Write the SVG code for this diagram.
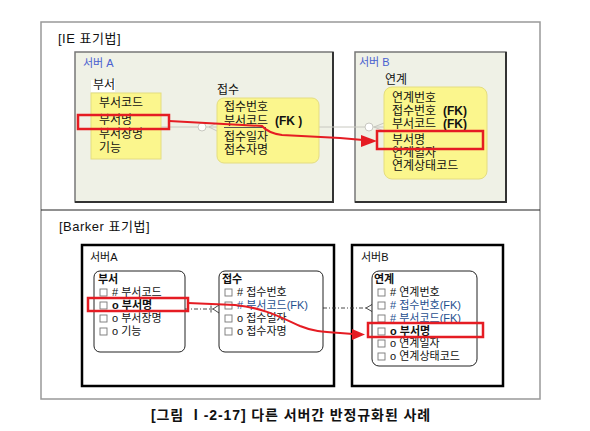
<svg xmlns="http://www.w3.org/2000/svg" width="590" height="431" viewBox="0 0 590 431">
<style>
text{font-family:"Liberation Sans","Noto Sans CJK KR",sans-serif;fill:#111}
.t12{font-size:12px}
.t11{font-size:11px}
.hd{font-size:13px;letter-spacing:0.5px}
.blue{fill:#4a5fd0}
.fk{fill:#1f4f8f}
.b{font-weight:bold}
.srvIE{fill:#eff1e6;stroke:#777;stroke-width:1.5}
.ent{fill:#fbf68d;stroke:#e4dd80;stroke-width:1}
.srvB{fill:#fff;stroke:#000;stroke-width:2.5}
.entB{fill:#fff;stroke:#222;stroke-width:1}
.red{fill:none;stroke:#e51c23;stroke-width:2.5}
.redl{fill:none;stroke:#e51c23;stroke-width:2}
.gray{fill:none;stroke:#c8c8c0;stroke-width:1}
.dash{fill:none;stroke:#333;stroke-width:0.9;stroke-dasharray:4 2 1 2}
.cb{fill:#fff;stroke:#777;stroke-width:0.9}
</style>
<rect width="590" height="431" fill="#fff"/>
<g id="frame">
<rect x="41" y="22" width="499" height="377" fill="none" stroke="#999" stroke-width="1.5"/>
<line x1="41" y1="210" x2="540" y2="210" stroke="#222" stroke-width="1"/>
<text x="58" y="43" class="hd">[IE 표기법]</text>
<text x="59" y="231" class="hd">[Barker 표기법]</text>
<text x="291" y="420" font-size="14" class="b" letter-spacing="0.9" text-anchor="middle">[그림 Ⅰ-2-17] 다른 서버간 반정규화된 사례</text>
</g>
<g id="ie-server-a">
<rect x="75" y="52" width="258" height="150" class="srvIE"/>
<polyline points="75,202 333,202 333,52" fill="none" stroke="#333" stroke-width="2"/>
<text x="83" y="67" class="t11 blue">서버 A</text>
</g>
<g id="ie-server-b">
<rect x="355" y="52" width="151" height="150" class="srvIE"/>
<polyline points="355,202 506,202 506,52" fill="none" stroke="#333" stroke-width="2"/>
<text x="359" y="66" class="t11 blue">서버 B</text>
</g>
<g id="ie-connectors">
<line x1="161" y1="127" x2="217" y2="127" class="gray"/>
<circle cx="202" cy="127" r="4" fill="#fff" stroke="#c8c8c0"/>
<polyline points="217,123 209,127 217,131" class="gray"/>
<line x1="319" y1="127" x2="384" y2="127" class="gray"/>
<circle cx="369" cy="127" r="4" fill="#fff" stroke="#c8c8c0"/>
<polyline points="384,123 374,127 384,131" class="gray"/>
</g>
<g id="ie-busu">
<rect x="91" y="80" width="24" height="12" fill="#fff"/>
<text x="93" y="89" class="t12">부서</text>
<rect x="91" y="93" width="70" height="66" class="ent"/>
<text x="99" y="107" class="t12">부서코드</text>
<text x="99" y="124" class="t12">부서명</text>
<text x="99" y="138" class="t12">부서장명</text>
<text x="99" y="152" class="t12">기능</text>
</g>
<g id="ie-jeopsu">
<text x="217" y="94" class="t12">접수</text>
<rect x="217" y="98" width="102" height="65" rx="7" class="ent"/>
<text x="224" y="111" class="t12">접수번호</text>
<text x="224" y="125" class="t12">부서코드 <tspan x="275" class="b">(FK  )</tspan></text>
<line x1="224" y1="127.5" x2="266" y2="127.5" stroke="#555" stroke-width="1"/>
<text x="224" y="141" class="t12">접수일자</text>
<text x="224" y="154" class="t12">접수자명</text>
</g>
<g id="ie-yeongye">
<text x="385" y="84" class="t12">연계</text>
<rect x="384" y="87" width="103" height="92" rx="8" class="ent"/>
<text x="392" y="102" class="t12">연계번호</text>
<text x="392" y="115" class="t12">접수번호 <tspan x="443" class="b">(FK)</tspan></text>
<text x="392" y="128" class="t12">부서코드 <tspan x="443" class="b">(FK)</tspan></text>
<text x="392" y="144" class="t12">부서명</text>
<text x="392" y="157" class="t12">연계일자</text>
<text x="392" y="170" class="t12">연계상태코드</text>
</g>
<g id="ie-highlight">
<rect x="78" y="115" width="91" height="14" class="red"/>
<rect x="377" y="131" width="106" height="18" class="red"/>
<path d="M169,121 L262,126 Q268,133 282,135 L340,138 L363,140" class="redl"/>
<polygon points="377,141 361,135 361,147" fill="#e51c23"/>
</g>
<g id="bk-server-a">
<rect x="82" y="245" width="252" height="141" class="srvB"/>
<text x="90" y="261" class="t11">서버A</text>
</g>
<g id="bk-server-b">
<rect x="352" y="245" width="151" height="141" class="srvB"/>
<text x="361" y="261" class="t11">서버B</text>
</g>
<g id="bk-connectors">
<line x1="185" y1="309" x2="213" y2="309" class="dash"/>
<line x1="211" y1="305.5" x2="211" y2="312.5" stroke="#333" stroke-width="0.9"/>
<polyline points="219,305 213,309 219,313" fill="none" stroke="#333" stroke-width="0.9"/>
<line x1="323" y1="308" x2="367" y2="308" class="dash"/>
<polyline points="372,304.5 366,308 372,311.5" fill="none" stroke="#333" stroke-width="0.9"/>
</g>
<g id="bk-busu">
<rect x="94" y="271" width="91" height="81" rx="6" class="entB"/>
<text x="98" y="283" class="t11 b">부서</text>
<rect x="100" y="289" width="7" height="7" class="cb"/><text x="112" y="296" class="t11"># 부서코드</text>
<rect x="100" y="302" width="7" height="7" class="cb"/><text x="112" y="309" class="t11 b">o  부서명</text>
<rect x="100" y="315" width="7" height="7" class="cb"/><text x="112" y="322" class="t11">o 부서장명</text>
<rect x="100" y="328" width="7" height="7" class="cb"/><text x="112" y="335" class="t11">o 기능</text>
</g>
<g id="bk-jeopsu">
<rect x="219" y="271" width="104" height="81" rx="6" class="entB"/>
<text x="222" y="283" class="t11 b">접수</text>
<rect x="225" y="289" width="7" height="7" class="cb"/><text x="237" y="296" class="t11"># 접수번호</text>
<rect x="225" y="302" width="7" height="7" class="cb"/><text x="237" y="309" class="t11 fk"># 부서코드(FK)</text>
<rect x="225" y="315" width="7" height="7" class="cb"/><text x="237" y="322" class="t11">o 접수일자</text>
<rect x="225" y="328" width="7" height="7" class="cb"/><text x="237" y="335" class="t11">o 접수자명</text>
</g>
<g id="bk-yeongye">
<rect x="372" y="271" width="105" height="95" rx="7" class="entB"/>
<text x="374" y="283" class="t11 b">연계</text>
<rect x="378" y="289" width="7" height="7" class="cb"/><text x="390" y="296" class="t11"># 연계번호</text>
<rect x="378" y="302" width="7" height="7" class="cb"/><text x="390" y="309" class="t11 fk"># 접수번호(FK)</text>
<rect x="378" y="315" width="7" height="7" class="cb"/><text x="390" y="322" class="t11 fk"># 부서코드(FK)</text>
<rect x="378" y="328" width="7" height="7" class="cb"/><text x="390" y="335" class="t11 b">o  부서명</text>
<rect x="378" y="340" width="7" height="7" class="cb"/><text x="390" y="347" class="t11">o 연계일자</text>
<rect x="378" y="353" width="7" height="7" class="cb"/><text x="390" y="360" class="t11">o 연계상태코드</text>
</g>
<g id="bk-highlight">
<rect x="88" y="298" width="100" height="13" class="red"/>
<rect x="368" y="323" width="115" height="14" class="red"/>
<path d="M188,303 L235,305 C265,308 282,318 300,326 C312,331 322,332 340,333 L353,334" class="redl"/>
<polygon points="365,334.5 352,329 352,340" fill="#e51c23"/>
</g>
</svg>
